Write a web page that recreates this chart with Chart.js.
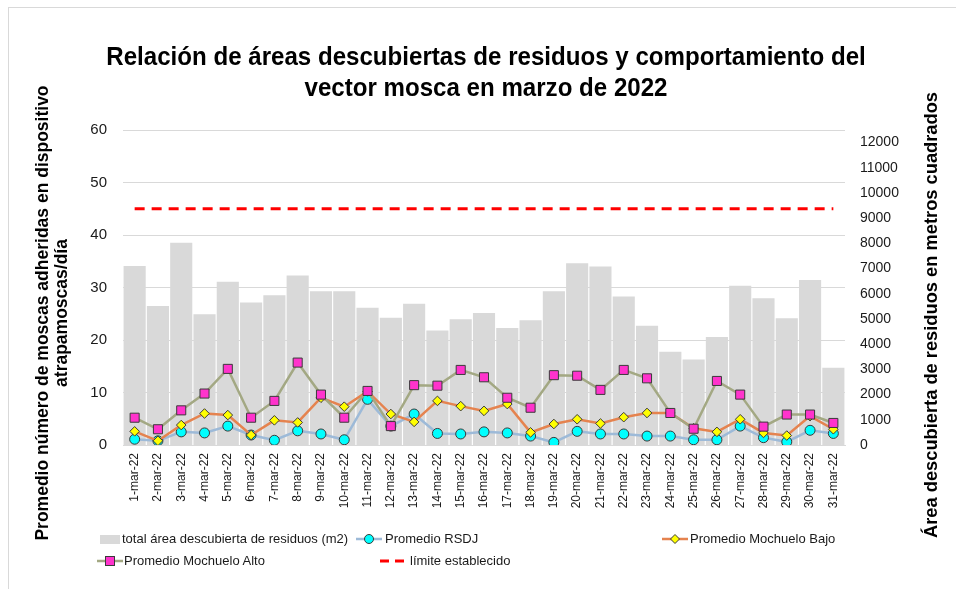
<!DOCTYPE html>
<html>
<head>
<meta charset="utf-8">
<script src="https://cdn.jsdelivr.net/npm/chart.js@4/dist/chart.umd.min.js"></script>
<style>
  html, body { margin: 0; padding: 0; background: #fff; }
  #wrap { position: relative; width: 956px; height: 589px; overflow: hidden; }
  #frame { position: absolute; left: 8px; top: 7px; width: 1000px; height: 700px; border-left: 1px solid #d9d9d9; border-top: 1px solid #d9d9d9; }
  canvas { position: absolute; left: 0; top: 0; }
  .lg { position: absolute; font: 13px "Liberation Sans", Arial, sans-serif; color: #1a1a1a; line-height: 16px; white-space: nowrap; }
  .ic { position: absolute; }
</style>
</head>
<body>
<div id="wrap">
  <div id="frame"></div>
  <canvas id="chart" width="956" height="589"></canvas>

  <div class="ic" style="left:100px;top:535px;width:20px;height:9px;background:#d9d9d9"></div>
  <div class="lg" style="left:122px;top:531px">total área descubierta de residuos (m2)</div>

  <svg class="ic" style="left:356px;top:532px" width="26" height="14"><line x1="0" y1="7" x2="26" y2="7" stroke="#9dbad8" stroke-width="2.5"/><circle cx="13" cy="7" r="4.5" fill="#00ffff" stroke="#3a3a3a" stroke-width="1"/></svg>
  <div class="lg" style="left:385px;top:531px">Promedio RSDJ</div>

  <svg class="ic" style="left:662px;top:532px" width="26" height="14"><line x1="0" y1="7" x2="26" y2="7" stroke="#e5834f" stroke-width="2.5"/><polygon points="13,2.5 17.5,7 13,11.5 8.5,7" fill="#ffff00" stroke="#3a3a3a" stroke-width="1"/></svg>
  <div class="lg" style="left:690px;top:531px">Promedio Mochuelo Bajo</div>

  <svg class="ic" style="left:97px;top:554px" width="26" height="14"><line x1="0" y1="7" x2="26" y2="7" stroke="#a3a883" stroke-width="2.5"/><rect x="8.5" y="2.5" width="9" height="9" fill="#ff33cc" stroke="#3a3a3a" stroke-width="1"/></svg>
  <div class="lg" style="left:124px;top:553px">Promedio Mochuelo Alto</div>

  <svg class="ic" style="left:380px;top:554px" width="26" height="14"><line x1="0" y1="7" x2="26" y2="7" stroke="#ff0000" stroke-width="3" stroke-dasharray="9 6"/></svg>
  <div class="lg" style="left:410px;top:553px">límite establecido</div>
</div>

<script>
// DATA
const days = ["1-mar-22", "2-mar-22", "3-mar-22", "4-mar-22", "5-mar-22", "6-mar-22", "7-mar-22", "8-mar-22",
  "9-mar-22", "10-mar-22", "11-mar-22", "12-mar-22", "13-mar-22", "14-mar-22", "15-mar-22", "16-mar-22",
  "17-mar-22", "18-mar-22", "19-mar-22", "20-mar-22", "21-mar-22", "22-mar-22", "23-mar-22", "24-mar-22",
  "25-mar-22", "26-mar-22", "27-mar-22", "28-mar-22", "29-mar-22", "30-mar-22", "31-mar-22"];
const areaTotal = [7100, 5520, 8030, 5190, 6480, 5650, 5940, 6730, 6100, 6100, 5450, 5050, 5610, 4540, 4990, 5240,
  4640, 4950, 6100, 7210, 7080, 5890, 4730, 3700, 3390, 4290, 6320, 5820, 5030, 6550, 3070];
const promRSDJ = [1.1, 0.8, 2.5, 2.3, 3.6, 1.9, 0.9, 2.7, 2.1, 1.0, 8.7, 3.6, 5.9, 2.2, 2.1, 2.5,
  2.3, 1.7, 0.5, 2.6, 2.1, 2.1, 1.7, 1.7, 1.0, 1.0, 3.6, 1.4, 0.6, 2.8, 2.2];
const promBajo = [2.6, 0.8, 3.8, 6.0, 5.7, 1.9, 4.7, 4.3, 9.0, 7.3, 10.2, 5.9, 4.4, 8.4, 7.4, 6.5,
  7.8, 2.4, 4.0, 4.9, 4.1, 5.3, 6.1, 6.1, 3.2, 2.5, 4.9, 2.3, 1.8, 5.5, 3.0];
const promAlto = [5.2, 3.0, 6.6, 9.8, 14.5, 5.2, 8.4, 15.7, 9.6, 5.2, 10.3, 3.6, 11.4, 11.3, 14.3, 12.9,
  9.0, 7.1, 13.3, 13.2, 10.5, 14.3, 12.7, 6.1, 3.1, 12.2, 9.6, 3.5, 5.8, 5.8, 4.2];
const limite = [45, 45, 45, 45, 45, 45, 45, 45, 45, 45, 45, 45, 45, 45, 45, 45,
  45, 45, 45, 45, 45, 45, 45, 45, 45, 45, 45, 45, 45, 45, 45];
const rightTicks = [0, 1000, 2000, 3000, 4000, 5000, 6000, 7000, 8000, 9000, 10000, 11000, 12000];

// TEXTS
const chartTitle = ["Relación de áreas descubiertas de residuos y comportamiento del", "vector mosca en marzo de 2022"];
const leftTitle = ["Promedio número de moscas adheridas en dispositivo", "atrapamoscas/día"];
const rightTitle = "Área descubierta de residuos en metros cuadrados";

const SANS = "'Liberation Sans', Arial, sans-serif";

// title (slightly condensed) and axis titles drawn by hand
const textPlugin = {
  id: "textPlugin",
  afterDraw(chart) {
    const ctx = chart.ctx;
    ctx.save();
    ctx.fillStyle = "#000";
    ctx.textAlign = "center";
    ctx.textBaseline = "middle";
    ctx.font = "bold 26px " + SANS;
    ctx.save();
    ctx.translate(486, 58);
    ctx.scale(0.927, 1);
    ctx.fillText(chartTitle[0], 0, 0);
    ctx.fillText(chartTitle[1], 0, 31);
    ctx.restore();

    ctx.font = "bold 17.5px " + SANS;
    ctx.save();
    ctx.translate(43, 313);
    ctx.rotate(-Math.PI / 2);
    ctx.fillText(leftTitle[0], 0, 0);
    ctx.fillText(leftTitle[1], 0, 19);
    ctx.restore();

    ctx.font = "bold 18.3px " + SANS;
    ctx.save();
    ctx.translate(932, 315);
    ctx.rotate(-Math.PI / 2);
    ctx.fillText(rightTitle, 0, 0);
    ctx.restore();
    ctx.restore();
  }
};

const config = {
  type: "bar",
  data: {
    labels: days,
    datasets: [
      {
        type: "line",
        label: "límite establecido",
        data: limite,
        yAxisID: "y",
        borderColor: "#ff0000",
        borderWidth: 3,
        borderDash: [10, 7],
        pointRadius: 0,
        fill: false,
        order: 0,
      },
      {
        type: "line",
        label: "Promedio Mochuelo Alto",
        data: promAlto,
        yAxisID: "y",
        borderColor: "#a3a883",
        borderWidth: 2.5,
        pointStyle: "rect",
        pointRadius: 6.4,
        pointBackgroundColor: "#ff33cc",
        pointBorderColor: "#3a3a3a",
        pointBorderWidth: 1,
        tension: 0,
        order: 1,
      },
      {
        type: "line",
        label: "Promedio Mochuelo Bajo",
        data: promBajo,
        yAxisID: "y",
        borderColor: "#e5834f",
        borderWidth: 2.5,
        pointStyle: "rectRot",
        pointRadius: 4.8,
        pointBackgroundColor: "#ffff00",
        pointBorderColor: "#3a3a3a",
        pointBorderWidth: 1,
        tension: 0,
        order: 2,
      },
      {
        type: "line",
        label: "Promedio RSDJ",
        data: promRSDJ,
        yAxisID: "y",
        borderColor: "#9dbad8",
        borderWidth: 2.5,
        pointStyle: "circle",
        pointRadius: 5,
        pointBackgroundColor: "#00ffff",
        pointBorderColor: "#3a3a3a",
        pointBorderWidth: 1,
        tension: 0,
        order: 3,
      },
      {
        type: "bar",
        label: "total área descubierta de residuos (m2)",
        data: areaTotal,
        yAxisID: "y2",
        backgroundColor: "#d9d9d9",
        barPercentage: 0.95,
        categoryPercentage: 1.0,
        order: 4,
      },
    ],
  },
  options: {
    responsive: false,
    animation: false,
    layout: { padding: { top: 130, left: 0, right: 0, bottom: 0 } },
    plugins: {
      legend: { display: false },
      tooltip: { enabled: false },
      title: { display: false },
    },
    scales: {
      x: {
        offset: true,
        grid: { display: false, drawTicks: false },
        border: { display: true, color: "#d9d9d9" },
        ticks: {
          color: "#1a1a1a",
          font: { family: SANS, size: 12 },
          minRotation: 90,
          maxRotation: 90,
          autoSkip: false,
          padding: 8,
        },
        afterFit: (scale) => { scale.height = 144; },
      },
      y: {
        position: "left",
        min: 0,
        max: 60,
        grid: { color: "#d9d9d9", lineWidth: 1, drawTicks: false },
        border: { display: false },
        ticks: { stepSize: 10, color: "#1a1a1a", font: { family: SANS, size: 15 }, padding: 16 },
        afterFit: (scale) => { scale.width = 123; },
      },
      y2: {
        position: "right",
        min: 0,
        max: 12500,
        grid: { display: false, drawTicks: false },
        border: { display: false },
        ticks: {
          color: "#1a1a1a",
          font: { family: SANS, size: 14 },
          padding: 15,
          autoSkip: false,
          callback: (value) => String(value),
        },
        afterBuildTicks: (scale) => {
          scale.ticks = rightTicks.map((v) => ({ value: v }));
        },
        afterFit: (scale) => { scale.width = 111; },
      },
    },
  },
  plugins: [textPlugin],
};

new Chart(document.getElementById("chart"), config);
</script>
</body>
</html>
